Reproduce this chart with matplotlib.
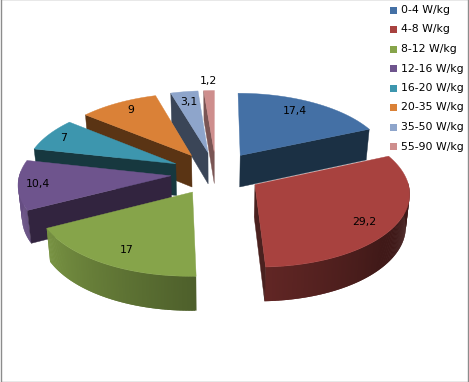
import numpy as np
import matplotlib
matplotlib.use("Agg")
import matplotlib.pyplot as plt
from matplotlib.patches import Polygon, Rectangle
from matplotlib.colors import to_rgb

categories = ["0-4 W/kg", "4-8 W/kg", "8-12 W/kg", "12-16 W/kg",
              "16-20 W/kg", "20-35 W/kg", "35-50 W/kg", "55-90 W/kg"]
values = [17.4, 29.2, 17, 10.4, 7, 9, 3.1, 1.2]
labels = ["17,4", "29,2", "17", "10,4", "7", "9", "3,1", "1,2"]
colors = ["#4470A5", "#A8423F", "#86A44A", "#6E548D",
          "#3D96AE", "#DA8137", "#8EA5CB", "#CE8E8D"]
wall_colors = ["#1B3044", "#4A211F", "#4F6229", "#32243F",
               "#17383F", "#5A3414", "#3A4557", "#7A5554"]
label_pos = [(295, 111), (364, 222), (127, 250), (38, 184),
             (64, 138), (131, 110), (189, 102), (208, 81)]

# pie geometry in image pixels
cx, cy = 216, 173
rx, ry = 151, 71.7
persp = 0.10
explode = 0.3
depth = 32

plt.rcParams['font.family'] = ['DejaVu Sans']
fig = plt.figure(figsize=(4.69, 3.82), dpi=100)
ax = fig.add_axes([0, 0, 1, 1])
ax.set_xlim(0, 469)
ax.set_ylim(382, 0)
ax.axis('off')


def top_pt(u, v):
    s = 1 / (1 + persp * v)
    return cx + rx * u * s, cy - ry * v * s


def bottom_pt(u, v):
    x, y = top_pt(u, v)
    return cx + (x - cx) * 0.98, y + depth * (1 - 0.06 * v)


def shade(col, ang):
    f = np.interp(ang, [60, 130, 178, 243, 285], [0.36, 0.38, 0.58, 0.9, 0.95])
    return tuple(c * f for c in to_rgb(col))


total = sum(values)
edges = np.cumsum([0] + values) / total * 360

# back slices first
mids = (edges[:-1] + edges[1:]) / 2
order = sorted(range(len(values)), key=lambda i: -np.cos(np.radians(mids[i])))
for i in order:
    a0, a1 = edges[i], edges[i + 1]
    m = np.radians(mids[i])
    ou, ov = explode * np.sin(m), explode * np.cos(m)
    angs = np.linspace(a0, a1, max(int(a1 - a0) * 2, 4))
    us = ou + np.sin(np.radians(angs))
    vs = ov + np.cos(np.radians(angs))
    top_rim = [top_pt(u, v) for u, v in zip(us, vs)]
    bot_rim = [bottom_pt(u, v) for u, v in zip(us, vs)]
    apex_t = top_pt(ou, ov)
    apex_b = bottom_pt(ou, ov)
    # outer wall, overlapping strips so no seams show
    for j in range(len(angs) - 1):
        if np.cos(np.radians(angs[j])) > 0.05:
            continue
        k = min(j + 2, len(angs) - 1)
        c = shade(colors[i], angs[j])
        ax.add_patch(Polygon([top_rim[j], top_rim[k], bot_rim[k], bot_rim[j]], fc=c, ec='none'))
    # only the cut faces that look towards us
    if np.sin(np.radians(a0)) < 0:
        ax.add_patch(Polygon([apex_t, top_rim[0], bot_rim[0], apex_b], fc=wall_colors[i], ec=wall_colors[i], lw=0.3))
    if np.sin(np.radians(a1)) > 0:
        ax.add_patch(Polygon([apex_t, top_rim[-1], bot_rim[-1], apex_b], fc=wall_colors[i], ec=wall_colors[i], lw=0.3))
    ax.add_patch(Polygon([apex_t] + top_rim, fc=colors[i], ec=colors[i], lw=0.3))

for lab, (x, y) in zip(labels, label_pos):
    ax.text(x, y, lab, fontsize=7.8, color='black', ha='center', va='center')

# legend
for i, name in enumerate(categories):
    y = 10 + i * 19.5
    ax.add_patch(Rectangle((390, y - 3.5), 7, 7, fc=colors[i], ec='none'))
    ax.text(401, y, name, fontsize=7.8, color='black', ha='left', va='center')

# chart border
ax.add_patch(Rectangle((0.5, -1), 467.5, 382.5, fill=False, ec='#8C8C8C', lw=1))

fig.savefig("out.png", dpi=100)
